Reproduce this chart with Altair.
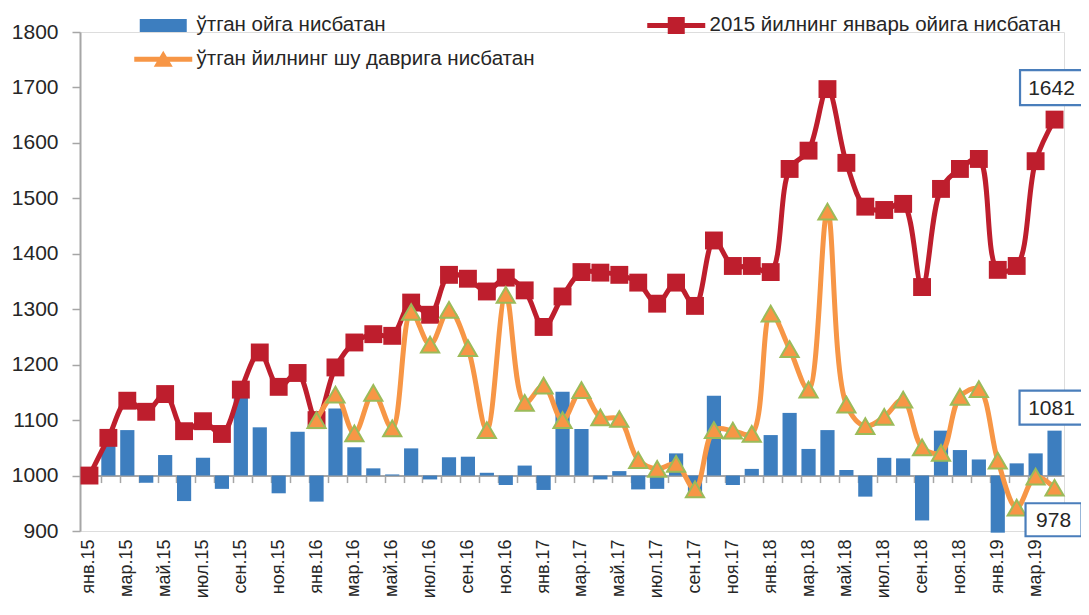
import altair as alt
import pandas as pd

months = ["янв", "фев", "мар", "апр", "май", "июн", "июл", "авг", "сен", "окт", "ноя", "дек"]
categories = [f"{m}.{y}" for y in ["15", "16", "17", "18", "19"] for m in months][:52]
labeled = categories[::2]

mom = [None, 1065, 1082, 987, 1037, 954, 1032, 976, 1143, 1087, 968, 1079,
       953, 1121, 1051, 1013, 1002, 1049, 993, 1033, 1034, 1005, 983, 1018,
       974, 1151, 1084, 993, 1008, 975, 976, 1040, 968, 1144, 983, 1012,
       1073, 1113, 1048, 1082, 1010, 962, 1032, 1031, 919, 1081, 1046, 1029,
       897, 1022, 1040, 1081]

base2015 = [1000, 1068, 1135, 1115, 1147, 1080, 1098, 1075, 1155, 1222, 1160, 1185,
            1100, 1195, 1240, 1255, 1252, 1312, 1290, 1362, 1355, 1332, 1357, 1334,
            1268, 1323, 1367, 1366, 1362, 1348, 1310, 1348, 1306, 1424, 1378, 1378,
            1367, 1553, 1586, 1697, 1564, 1485, 1479, 1490, 1340, 1517, 1553, 1571,
            1371, 1378, 1567, 1642]

yoy = [None] * 12 + [1100, 1146, 1076, 1149, 1085, 1295, 1236, 1299, 1230, 1082, 1326, 1131,
                     1162, 1100, 1154, 1105, 1102, 1028, 1012, 1021, 975, 1082, 1081, 1075,
                     1292, 1228, 1155, 1476, 1128, 1089, 1106, 1137, 1051, 1041, 1142, 1156,
                     1027, 942, 998, 978]

name_mom = "ўтган ойга нисбатан"
name_base = "2015 йилнинг январь ойига нисбатан"
name_yoy = "ўтган йилнинг шу даврига нисбатан"
legend_order = [name_mom, name_yoy, name_base]

BLUE = "#3D7EBF"
RED = "#BE1E2D"
ORANGE = "#F79646"
GREEN = "#9BBB59"
GRAY = "#A6A6A6"
TXT = "#262626"
FONT = "Liberation Sans"

W, H = 984, 499

df = pd.DataFrame({"cat": categories, "mom": mom, "base": base2015, "yoy": yoy})

yscale = alt.Scale(domain=[900, 1800], nice=False, zero=False)
xsort = categories

bars = alt.Chart(df).transform_filter("isValid(datum.mom)").mark_bar(color=BLUE).encode(
    x=alt.X("cat:N", sort=xsort,
            scale=alt.Scale(paddingInner=0.25, paddingOuter=0.125),
            axis=alt.Axis(values=labeled, labelAngle=-90, domain=False, ticks=False,
                          orient="bottom", labelPadding=8, labelFontSize=18,
                          labelFont=FONT, labelColor=TXT, title=None)),
    y=alt.Y("mom:Q", scale=yscale,
            axis=alt.Axis(values=list(range(900, 1900, 100)), grid=False, title=None,
                          format="d", labelFontSize=21, labelFont=FONT, labelColor=TXT,
                          labelPadding=14, tickSize=8, tickColor=GRAY, tickWidth=1.5,
                          domainColor=GRAY, domainWidth=2)),
    y2=alt.datum(1000),
)

red_line = alt.Chart(df).mark_line(color=RED, strokeWidth=5, interpolate="catmull-rom").encode(
    x=alt.X("cat:N", sort=xsort,
            axis=alt.Axis(orient="bottom", labels=False, domain=True, ticks=True,
                          bandPosition=0, offset=-H / 9, tickSize=7, tickColor=GRAY,
                          tickWidth=1.5, domainColor=GRAY, domainWidth=2, title=None,
                          grid=False)),
    y=alt.Y("base:Q"),
)

red_pts = alt.Chart(df).mark_square(size=320, color=RED, opacity=1).encode(
    x=alt.X("cat:N", sort=xsort, axis=None),
    y=alt.Y("base:Q"),
)

orange_line = alt.Chart(df).transform_filter("isValid(datum.yoy)").mark_line(
    color=ORANGE, strokeWidth=5, interpolate="catmull-rom").encode(
    x=alt.X("cat:N", sort=xsort, axis=None),
    y=alt.Y("yoy:Q"),
)

tri = alt.Chart(df).transform_filter("isValid(datum.yoy)").mark_point(
    shape="triangle-up", size=330, filled=True, fill=ORANGE, stroke=GREEN,
    strokeWidth=2, opacity=1).encode(
    x=alt.X("cat:N", sort=xsort, axis=None),
    y=alt.Y("yoy:Q"),
)


def annot(value, xoff, yoff, w, h):
    d = pd.DataFrame({"cat": [categories[-1]], "v": [value], "t": [str(value)]})
    r = h / w
    box = alt.Chart(d).mark_point(
        shape=f"M-1,-{r:.3f}H1V{r:.3f}H-1Z", size=w * w, filled=True, fill="white",
        stroke="#4A7EBB", strokeWidth=2.2, opacity=1, xOffset=xoff, yOffset=yoff).encode(
        x=alt.X("cat:N", sort=xsort, axis=None), y=alt.Y("v:Q"))
    txt = alt.Chart(d).mark_text(
        fontSize=21, font=FONT, color=TXT, xOffset=xoff, yOffset=yoff + 1,
        align="center", baseline="middle").encode(
        x=alt.X("cat:N", sort=xsort, axis=None), y=alt.Y("v:Q"), text="t:N")
    return box + txt


a1 = annot(base2015[-1], -3, -32, 63, 35)
a2 = annot(mom[-1], -3, -23, 64, 34)
a3 = annot(yoy[-1], -1, 32, 56, 33)

shape_paths = [
    "M-2.35,-0.65H2.35V0.65H-2.35Z",
    "M-2.9,-0.25H2.9V0.25H-2.9Z M0,-0.85L0.95,0.75L-0.95,0.75Z",
    "M-2.9,-0.25H2.9V0.25H-2.9Z M-0.85,-0.85H0.85V0.85H-0.85Z",
]

leg = alt.Legend(orient="none", legendX=73, legendY=-17, columns=2, columnPadding=112,
                 rowPadding=13, symbolSize=400, labelOffset=23, labelFontSize=20.5,
                 labelFont=FONT, labelColor=TXT, labelLimit=600, title=None,
                 symbolStrokeWidth=0, symbolOpacity=1)

legend_df = pd.DataFrame({"s": legend_order})
legend_layer = alt.Chart(legend_df).mark_point(filled=True, opacity=0).encode(
    color=alt.Color("s:N", scale=alt.Scale(domain=legend_order, range=[BLUE, ORANGE, RED]),
                    legend=leg),
    shape=alt.Shape("s:N", scale=alt.Scale(domain=legend_order, range=shape_paths),
                    legend=leg),
)

chart = alt.layer(bars, red_line, red_pts, orange_line, tri, a1, a2, a3, legend_layer).resolve_axis(
    x="independent"
).properties(
    width=W, height=H,
    autosize=alt.AutoSizeParams(type="none"),
    padding={"left": 72, "top": 24, "right": 17, "bottom": 68},
).configure_view(stroke=None).configure(font=FONT)

chart.save("out.html", embed_options={"renderer": "svg", "actions": False})
